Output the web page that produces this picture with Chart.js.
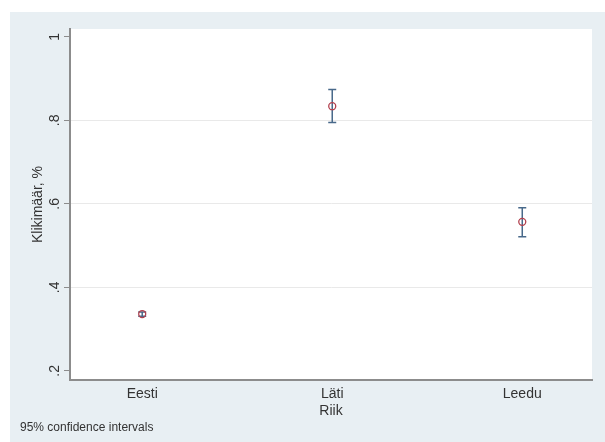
<!DOCTYPE html>
<html>
<head>
<meta charset="utf-8">
<script src="https://cdn.jsdelivr.net/npm/chart.js@4.4.1/dist/chart.umd.min.js"></script>
<style>
  html, body { margin: 0; padding: 0; background: #ffffff; }
  #wrap { position: absolute; left: 10px; top: 12px; width: 595px; height: 430px; background: #e8eff3; }
</style>
</head>
<body>
<div id="wrap"><canvas id="ciChart"></canvas></div>
<script>
const countries = ['Eesti', 'Läti', 'Leedu'];
const means = [0.336, 0.834, 0.557];
const lower = [0.331, 0.795, 0.521];
const upper = [0.341, 0.874, 0.591];
const yTicks = [0.2, 0.4, 0.6, 0.8, 1];
const yTickLabels = ['.2', '.4', '.6', '.8', '1'];
const gridAt = [0.4, 0.6, 0.8];

const font = 'Liberation Sans, Arial, sans-serif';

// white plot region, caps drawn under the markers, note at the bottom
const plotBg = {
  id: 'plotBg',
  beforeDraw(chart) {
    const { ctx, chartArea: a } = chart;
    ctx.save();
    ctx.fillStyle = '#ffffff';
    ctx.fillRect(a.left, a.top, a.right - a.left, a.bottom - a.top);
    ctx.restore();
  }
};

const errorBars = {
  id: 'errorBars',
  beforeDatasetsDraw(chart) {
    const { ctx, scales: { x, y } } = chart;
    ctx.save();
    ctx.strokeStyle = '#48698a';
    ctx.lineWidth = 1.5;
    countries.forEach((c, i) => {
      const px = x.getPixelForValue(i + 1);
      const top = y.getPixelForValue(upper[i]);
      const bot = y.getPixelForValue(lower[i]);
      ctx.beginPath();
      ctx.moveTo(px, top); ctx.lineTo(px, bot);
      ctx.moveTo(px - 4, top); ctx.lineTo(px + 4, top);
      ctx.moveTo(px - 4, bot); ctx.lineTo(px + 4, bot);
      ctx.stroke();
    });
    ctx.restore();
  }
};

const footnote = {
  id: 'footnote',
  afterDraw(chart) {
    const { ctx } = chart;
    ctx.save();
    ctx.font = '12px ' + font;
    ctx.fillStyle = '#333333';
    ctx.textBaseline = 'middle';
    ctx.fillText('95% confidence intervals', 10, 416);
    ctx.restore();
  }
};

new Chart(document.getElementById('ciChart'), {
  type: 'scatter',
  data: {
    datasets: [{
      data: countries.map((c, i) => ({ x: i + 1, y: means[i] })),
      pointStyle: 'circle',
      pointRadius: 3.5,
      pointBorderWidth: 1.3,
      borderColor: '#b2404e',
      backgroundColor: 'rgba(0,0,0,0)'
    }]
  },
  options: {
    responsive: true,
    maintainAspectRatio: false,
    animation: false,
    layout: { padding: { left: 0, top: 17, right: 13, bottom: 0 } },
    plugins: { legend: { display: false }, tooltip: { enabled: false } },
    scales: {
      x: {
        type: 'linear',
        min: 0.62,
        max: 3.367,
        afterBuildTicks: s => { s.ticks = countries.map((c, i) => ({ value: i + 1 })); },
        afterFit: s => { s.height = 62; },
        grid: { display: false, drawTicks: false },
        border: { color: '#8c8c8c', width: 2 },
        ticks: {
          padding: 6,
          color: '#333333',
          font: { family: font, size: 14 },
          callback: v => countries[v - 1]
        },
        title: {
          display: true,
          text: 'Riik',
          color: '#333333',
          font: { family: font, size: 14 },
          padding: { top: 0, bottom: 22 }
        }
      },
      y: {
        min: 0.178,
        max: 1.019,
        afterBuildTicks: s => { s.ticks = yTicks.map(v => ({ value: v })); },
        afterFit: s => { s.width = 60; },
        grid: {
          color: c => gridAt.includes(c.tick && c.tick.value) ? '#e9e9e9' : 'rgba(0,0,0,0)',
          tickColor: '#8c8c8c',
          tickLength: 6,
          lineWidth: 1
        },
        border: { color: '#8c8c8c', width: 2 },
        ticks: {
          padding: 3,
          minRotation: 90,
          maxRotation: 90,
          crossAlign: 'center',
          color: '#333333',
          font: { family: font, size: 14 },
          callback: v => yTickLabels[yTicks.indexOf(v)]
        },
        title: {
          display: true,
          text: 'Klikimäär, %',
          color: '#333333',
          font: { family: font, size: 14 },
          padding: { top: 20, bottom: 0 }
        }
      }
    }
  },
  plugins: [plotBg, errorBars, footnote]
});
</script>
</body>
</html>
